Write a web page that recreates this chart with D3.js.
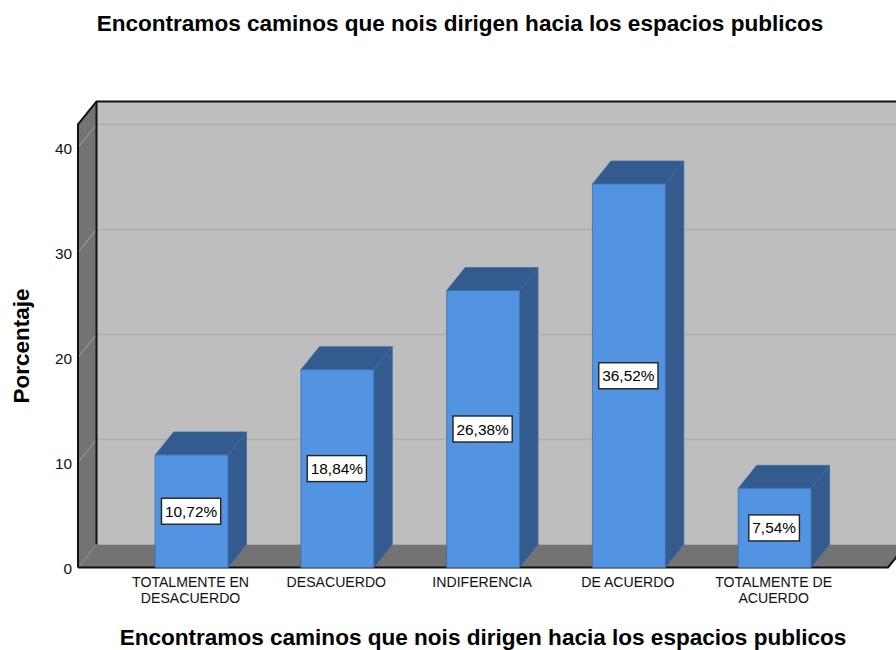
<!DOCTYPE html>
<html><head><meta charset="utf-8">
<script src="https://cdnjs.cloudflare.com/ajax/libs/d3/7.8.5/d3.min.js"></script>
<style>html,body{margin:0;background:#fff;overflow:hidden}svg{display:block}text{font-family:"Liberation Sans",Arial,sans-serif}</style>
</head><body><svg id="c" width="896" height="650"></svg>
<script>
const titleText = "Encontramos caminos que nois dirigen hacia los espacios publicos";
const yAxisTitle = "Porcentaje";
const categories = ["TOTALMENTE EN|DESACUERDO","DESACUERDO","INDIFERENCIA","DE ACUERDO","TOTALMENTE DE|ACUERDO"];
const values = [10.72,18.84,26.38,36.52,7.54];
const valueLabels = ["10,72%","18,84%","26,38%","36,52%","7,54%"];
const yTicks = [0,10,20,30,40];

const svg = d3.select("#c");
const y = d3.scaleLinear().domain([0,42.2]).range([567.5,124.4]);
const x = d3.scaleBand().domain(categories).range([118.7,847.5]).paddingInner(0.5).paddingOuter(0.25);
const dx = 18.5, dy = -23, left = 78, right = 888;
const poly = (pts,fill,stroke,sw) => svg.append("polygon").attr("points",pts.map(p=>p.join(",")).join(" "))
  .attr("fill",fill).attr("stroke",stroke||"none").attr("stroke-width",sw||0).attr("stroke-linejoin","round");
const topY = y.range()[1], baseY = y(0);

// back wall
poly([[left+dx,topY+dy],[right+dx,topY+dy],[right+dx,baseY+dy],[left+dx,baseY+dy]],"#bebebe");
// left wall
poly([[left,topY],[left+dx,topY+dy],[left+dx,baseY+dy],[left,baseY]],"#737373");
// floor
poly([[left,baseY],[left+dx,baseY+dy],[right+dx,baseY+dy],[right,baseY]],"#737373");
// gridlines
yTicks.filter(t=>t>0).forEach(t=>{
  svg.append("line").attr("x1",left+dx).attr("x2",right+dx).attr("y1",y(t)+dy).attr("y2",y(t)+dy).attr("stroke","#adadad").attr("stroke-width",1.5);
  svg.append("line").attr("x1",left).attr("x2",left+dx).attr("y1",y(t)).attr("y2",y(t)+dy).attr("stroke","#a5a5a5").attr("stroke-width",1);
});
svg.append("line").attr("x1",left).attr("x2",left+dx).attr("y1",baseY).attr("y2",baseY+dy).attr("stroke","#8f8f8f").attr("stroke-width",1);
// frame
const frame = d=>svg.append("path").attr("d",d).attr("fill","none").attr("stroke","#111").attr("stroke-width",2);
frame(`M${left},${baseY}V${topY}L${left+dx},${topY+dy}H${right+dx}`);
frame(`M${left+dx},${topY+dy}V${baseY+dy}`);
frame(`M${left},${baseY}H${right}L${right+dx},${baseY+dy}`);

// bars
const bars = svg.append("g").selectAll("g").data(values).join("g");
bars.each(function(v,i){
  const g = d3.select(this), c = categories[i], x0 = x(c), x1 = x0 + x.bandwidth(), yt = y(v);
  const p = (pts,fill)=>g.append("polygon").attr("points",pts.map(q=>q.join(",")).join(" ")).attr("fill",fill).attr("stroke","#3c6ea8").attr("stroke-width",.8);
  p([[x1,baseY],[x1,yt],[x1+dx,yt+dy],[x1+dx,baseY+dy]],"#335b8e");
  p([[x0,yt],[x0+dx,yt+dy],[x1+dx,yt+dy],[x1,yt]],"#335b8e");
  p([[x0,yt],[x1,yt],[x1,baseY],[x0,baseY]],"#5294e2");
  const cy = (yt+baseY)/2, cx = (x0+x1)/2 - 0.5;
  const t = g.append("text").attr("x",cx).attr("y",cy+5.5).attr("text-anchor","middle").attr("font-size",15.4).attr("fill","#000").text(valueLabels[i]);
  const w = t.node().getComputedTextLength()+7;
  g.insert("rect","text").attr("x",cx-w/2).attr("y",cy-13).attr("width",w).attr("height",26).attr("fill","#fff").attr("stroke","#222").attr("stroke-width",1.4);
});

// y axis
const ax = svg.append("g").attr("transform",`translate(${left},0.8)`).call(d3.axisLeft(y).tickValues(yTicks).tickSize(0).tickPadding(6).tickFormat(d3.format("d")));
ax.select(".domain").remove();
ax.selectAll("text").attr("font-size",15.4).attr("fill","#111").style("font-family",'"Liberation Sans",Arial,sans-serif');

// x labels
const xAx = svg.append("g").selectAll("text").data(categories).join("text")
  .attr("text-anchor","middle").attr("font-size",14.1).attr("fill","#111");
xAx.each(function(d){
  d.split("|").forEach((s,k)=>d3.select(this).append("tspan").attr("x",x(d)+x.bandwidth()/2-1).attr("y",587+k*16.3).text(s));
});

// titles
svg.append("text").attr("x",460).attr("y",31).attr("text-anchor","middle").attr("font-size",22.55).attr("font-weight","bold").attr("fill","#000").text(titleText);
svg.append("text").attr("x",483).attr("y",645).attr("text-anchor","middle").attr("font-size",22.55).attr("font-weight","bold").attr("fill","#000").text(titleText);
svg.append("text").attr("transform","translate(29,346) rotate(-90)").attr("text-anchor","middle").attr("font-size",22.5).attr("font-weight","bold").attr("fill","#000").text(yAxisTitle);
</script></body></html>
